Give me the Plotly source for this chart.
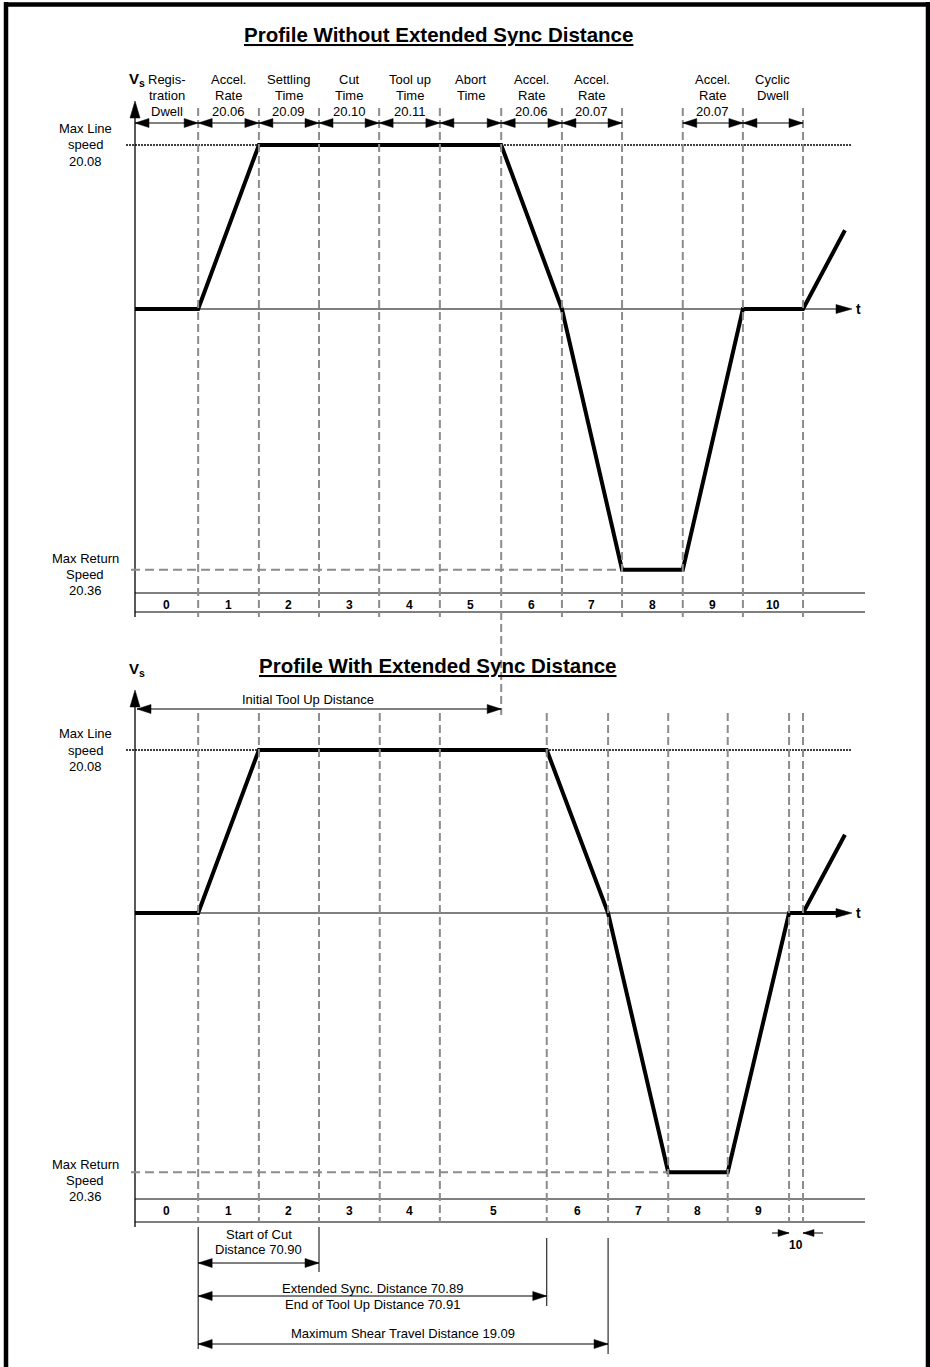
import plotly.graph_objects as go

W, H = 930, 1367
U = 60.73          # pixels per time unit
X0 = 135           # pixel column of t = 0 (speed axis)
TOP_ZERO, TOP_UNIT = 309, 164     # pixel row of v = 0 and pixels per unit speed (top)
BOT_ZERO, BOT_UNIT = 913, 163     # same for the lower profile
FONT = 'Arial, "Liberation Sans", sans-serif'
GREY = '#8c8c8c'

# ---- data -------------------------------------------------------------
# segment boundaries (time units)
top_bounds = [0, 1.04, 2.04, 3.03, 4.02, 5.02, 6.03, 7.03, 8.02, 9.02, 10.01, 11.0]
bottom_bounds = [0, 1.04, 2.04, 3.03, 4.03, 5.02, 6.78, 7.79, 8.78, 9.76, 10.77, 11.0]

# speed profiles (time, speed) - 1 = max line speed
top_t = [0, 1.04, 2.04, 6.03, 7.03, 8.02, 9.02, 10.01, 11.0, 11.69]
top_v = [0, 0, 1, 1, 0, -1.59, -1.59, 0, 0, 0.48]
bottom_t = [0, 1.04, 2.04, 6.78, 7.79, 8.78, 9.76, 10.77, 11.0, 11.69]
bottom_v = [0, 0, 1, 1, 0, -1.59, -1.59, 0, 0, 0.48]

max_line_speed = 1.0
max_return_speed = -1.59

segment_labels = ['0', '1', '2', '3', '4', '5', '6', '7', '8', '9', '10']
header_labels = [['Regis-', 'tration', 'Dwell'], ['Accel.', 'Rate', '20.06'],
                 ['Settling', 'Time', '20.09'], ['Cut', 'Time', '20.10'],
                 ['Tool up', 'Time', '20.11'], ['Abort', 'Time'],
                 ['Accel.', 'Rate', '20.06'], ['Accel.', 'Rate', '20.07'], [],
                 ['Accel.', 'Rate', '20.07'], ['Cyclic', 'Dwell']]
max_line_label = ['Max Line', 'speed', '20.08']
max_return_label = ['Max Return', 'Speed', '20.36']


def py(p):
    """pixel row -> paper y"""
    return 1 - p / H


def tx(p):
    """pixel column -> time units"""
    return (p - X0) / U


def mid(a, b):
    return (a + b) / 2


fig = go.Figure()

fig.add_trace(go.Scatter(x=top_t, y=top_v, mode='lines', yaxis='y',
                         line=dict(color='black', width=4), hoverinfo='skip'))
fig.add_trace(go.Scatter(x=bottom_t, y=bottom_v, mode='lines', yaxis='y2',
                         line=dict(color='black', width=4), hoverinfo='skip'))

shapes = []
annotations = []


def line(x0, y0, x1, y1, yref='paper', color='black', width=1, dash=None):
    shapes.append(dict(type='line', xref='x', yref=yref, x0=x0, y0=y0, x1=x1, y1=y1,
                       line=dict(color=color, width=width, dash=dash)))


def head(xt, ypx, direction, length=14, half=4.5):
    """filled triangular arrow head; tip at (xt, pixel row ypx)"""
    yt = py(ypx)
    if direction in ('right', 'left'):
        s = 1 if direction == 'right' else -1
        xb = xt - s * length / U
        path = f'M {xt},{yt} L {xb},{yt + half / H} L {xb},{yt - half / H} Z'
    else:
        s = 1 if direction == 'up' else -1
        yb = yt - s * length / H
        path = f'M {xt},{yt} L {xt - half / U},{yb} L {xt + half / U},{yb} Z'
    shapes.append(dict(type='path', xref='x', yref='paper', path=path,
                       fillcolor='black', line=dict(color='black', width=0.5)))


def dim_arrow(xa, xb, ypx, both=True):
    line(xa, py(ypx), xb, py(ypx))
    head(xb, ypx, 'right')
    if both:
        head(xa, ypx, 'left')


def label(x, ypx, text, size=13, bold=False, xref='x'):
    if bold:
        text = f'<b>{text}</b>'
    annotations.append(dict(x=x, y=py(ypx), xref=xref, yref='paper', text=text,
                            showarrow=False, xanchor='center', yanchor='middle',
                            font=dict(family=FONT, size=size, color='black')))


def label_lines(x, first_px, lines, spacing=15.5, size=13):
    for k, s in enumerate(lines):
        label(x, first_px + k * spacing, s, size=size)


# ---- frame --------------------------------------------------------------
for x0, y0, x1, y1 in [(4, 4.5, 928, 4.5), (6, 2, 6, H + 5), (928, 2, 928, H + 5)]:
    shapes.append(dict(type='line', xref='paper', yref='paper', x0=x0 / W, x1=x1 / W,
                       y0=py(y0), y1=py(y1), line=dict(color='black', width=4.5)))

# ---- titles -------------------------------------------------------------
label(0.471, 35, '<u>Profile Without Extended Sync Distance</u>', size=20.5, bold=True, xref='paper')
label(0.471, 665, '<u>Profile With Extended Sync Distance</u>', size=20.5, bold=True, xref='paper')

# ---- panel frames (axes, table) -------------------------------------------
for zero, unit, tip, tbl_top, tbl_bot, yref in [(TOP_ZERO, TOP_UNIT, 101, 593, 612, 'y'),
                                                (BOT_ZERO, BOT_UNIT, 690, 1199, 1222, 'y2')]:
    # speed axis
    line(0, py(tip + 10), 0, py(tbl_bot + 5), width=1.3)
    head(0, tip, 'up', length=17, half=5)
    # time axis
    line(0, 0, tx(840), 0, yref=yref, width=1.2)
    head(tx(852), zero, 'right', length=16, half=4.5)
    label(tx(858), zero, 't', size=14, bold=True)
    label(tx(137), tip - 21, 'V<sub>s</sub>', size=15, bold=True)
    # segment table
    line(0, py(tbl_top), tx(865), py(tbl_top))
    line(0, py(tbl_bot), tx(865), py(tbl_bot))
    # left label
    label_lines(tx(85), zero - unit - 16.5, max_line_label, spacing=16.5)
    # reference speed line
    line(tx(126), max_line_speed, tx(852), max_line_speed, yref=yref, width=1.5, dash='2px,1px')

label_lines(tx(85), 558, max_return_label, spacing=16)
label_lines(tx(85), 1164, max_return_label, spacing=16)
line(tx(131), max_return_speed, top_bounds[8], max_return_speed, yref='y', color=GREY, width=2, dash='9px,5px')
line(tx(131), max_return_speed, bottom_bounds[8], max_return_speed, yref='y2', color=GREY, width=2, dash='9px,5px')

# thick piece on lower time axis
line(bottom_bounds[10], 0, tx(840), 0, yref='y2', width=4)

# ---- top panel boundaries, header arrows, segment numbers ------------------
for i, b in enumerate(top_bounds[1:], start=1):
    bottom_px = 715 if i == 6 else 617
    line(b, py(108), b, py(bottom_px), color=GREY, width=2, dash='8px,4px')

for i, lines in enumerate(header_labels):
    a, b = top_bounds[i], top_bounds[i + 1]
    if not lines:
        continue
    label_lines(mid(a, b), 80, lines)
    dim_arrow(a, b, 123)

for i, s in enumerate(segment_labels):
    label(mid(top_bounds[i], top_bounds[i + 1]), 605, s, size=12, bold=True)

# ---- lower panel ---------------------------------------------------------
dim_arrow(tx(137), top_bounds[6], 709)
label(tx(308), 700, 'Initial Tool Up Distance')

for b in bottom_bounds[1:]:
    line(b, py(713), b, py(1222), color=GREY, width=2, dash='8px,4px')

for i, s in enumerate(segment_labels[:-1]):
    label(mid(bottom_bounds[i], bottom_bounds[i + 1]), 1211, s, size=12, bold=True)

# segment 10 marker below the table
label(mid(bottom_bounds[10], bottom_bounds[11]), 1245, segment_labels[10], size=12, bold=True)
line(tx(772), py(1233), bottom_bounds[10], py(1233))
head(bottom_bounds[10], 1233, 'right', length=11, half=3.5)
line(bottom_bounds[11], py(1233), tx(823), py(1233))
head(bottom_bounds[11], 1233, 'left', length=11, half=3.5)

# distance dimensions
b1, b3, b6, b7 = bottom_bounds[1], bottom_bounds[3], bottom_bounds[6], bottom_bounds[7]
line(b1, py(1227), b1, py(1349))
line(b3, py(1227), b3, py(1272))
line(b6, py(1238), b6, py(1306))
line(b7, py(1238), b7, py(1354))

label_lines(mid(b1, b3), 1234, ['Start of Cut', 'Distance 70.90'], spacing=15)
dim_arrow(b1, b3, 1263)
label(mid(b1, b6), 1288, 'Extended Sync. Distance 70.89')
dim_arrow(b1, b6, 1296)
label(mid(b1, b6), 1304, 'End of Tool Up Distance 70.91')
label(mid(b1, b7), 1333, 'Maximum Shear Travel Distance 19.09')
dim_arrow(b1, b7, 1344)

fig.update_layout(
    width=W, height=H,
    margin=dict(l=0, r=0, t=0, b=0),
    paper_bgcolor='white', plot_bgcolor='white',
    showlegend=False,
    xaxis=dict(range=[-X0 / U, (W - X0) / U], visible=False, fixedrange=True),
    yaxis=dict(range=[(TOP_ZERO - H) / TOP_UNIT, TOP_ZERO / TOP_UNIT], visible=False, fixedrange=True),
    yaxis2=dict(range=[(BOT_ZERO - H) / BOT_UNIT, BOT_ZERO / BOT_UNIT], visible=False,
                fixedrange=True, overlaying='y'),
    shapes=shapes,
    annotations=annotations,
)

# the page body has a default 8px margin; drop it so the figure sits at the window origin
fig.write_html('out.html', config={'displayModeBar': False},
               post_script="document.body.style.margin='0';")
